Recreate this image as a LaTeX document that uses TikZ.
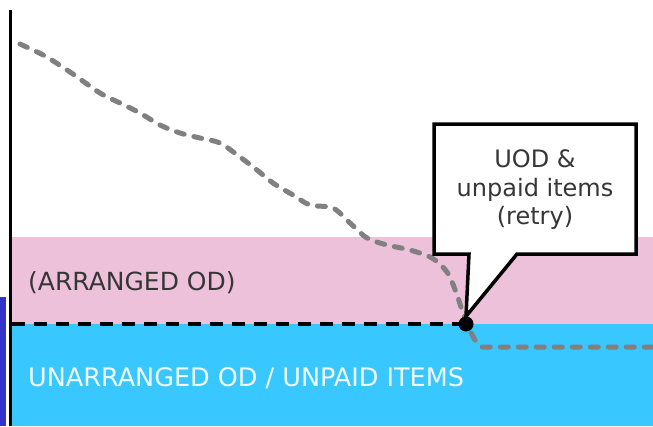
\documentclass[tikz,border=0pt]{standalone}
\usepackage{fontspec}
\setmainfont{DejaVu Sans}
\definecolor{pinkband}{HTML}{EEC1DA}
\definecolor{blueband}{HTML}{38C8FF}
\definecolor{navy}{HTML}{3333CC}
\definecolor{curvegray}{HTML}{808080}
\definecolor{txtgray}{HTML}{363636}
\begin{document}
\begin{tikzpicture}[x=1pt,y=-1pt,
  graydash/.style={draw=curvegray,line width=5pt,line cap=round,dash pattern=on 8pt off 10pt},
  blackdash/.style={draw=black,line width=4.5pt,dash pattern=on 13pt off 9pt},
  lbl/.style={font=\fontsize{25}{30}\selectfont,inner sep=0pt,anchor=west}]
\useasboundingbox (0,0) rectangle (653,426);
\fill[white] (0,0) rectangle (653,426);
% bands
\fill[pinkband] (11,237) rectangle (653,324);
\fill[blueband] (11,324) rectangle (653,426);
\fill[navy] (0,297) rectangle (6,426);
% axis
\draw[line width=3.5pt] (10.5,10) -- (10.5,426);
% labels
\node[lbl,text=txtgray] (arr) at (28,283) {(ARRANGED OD)};
\node[lbl,text=white!92!blueband,font=\fontsize{25.5}{30}\selectfont] (unarr) at (28,378) {UNARRANGED OD / UNPAID ITEMS};
% black dashed level
\coordinate (lvl) at (12,324);
\coordinate (ptc) at (466,324);
\draw[blackdash] (lvl) -- (ptc);
% gray curve
\coordinate (cstart) at (20,44);
\coordinate (cend) at (653,347);
\draw[graydash] plot[smooth,tension=0.5] coordinates {(cstart) (45,56) (70,72) (100,93) (120,103) (140,113) (160,125) (180,133) (200,138) (220,143) (240,157) (257,170) (273,183) (293,195) (310,205) (333,208) (350,223) (367,238) (387,245) (410,250) (432,258) (447,272) (456,292) (462,310) (468,326) (475,340) (482,347)} -- (cend);
\node[circle,fill=black,inner sep=0pt,minimum size=15pt] (pt) at (ptc) {};
% callout
\coordinate (box) at (535,190);
\filldraw[fill=white,line width=3.5pt,line join=miter]
  (434,254) -- (434,124) -- (636,124) -- (636,254)
  -- (517,254) -- (pt.north) -- (469,254) -- cycle;
\node[align=center,text=txtgray,font=\fontsize{24}{28.5}\selectfont] (btxt) at (box) {UOD \&\\unpaid items\\(retry)};
\end{tikzpicture}
\end{document}
